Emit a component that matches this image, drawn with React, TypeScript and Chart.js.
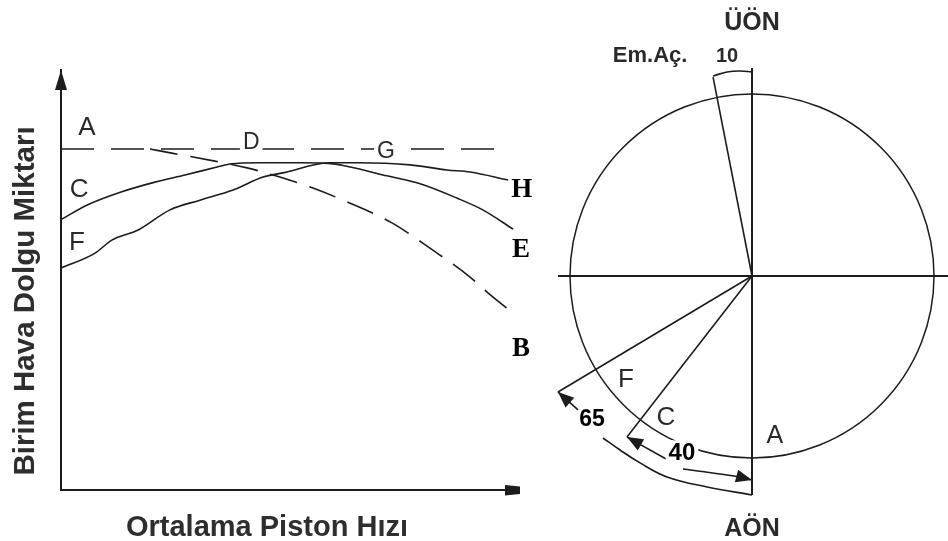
import { useEffect, useRef } from "react";
import { Chart, registerables } from "chart.js";

Chart.register(...registerables);

// ---------------- Left chart: volumetric fill vs. mean piston speed (relative units 0–100) ----------------
// A–G: ideal (no inlet-closing delay) level
const agSpeed = [0, 98.9];
const agFill = [81.2, 81.2];
// A–B: inlet closes at BDC (dashed)
const abSpeed = [19.6, 24.4, 29.1, 33.9, 41.0, 48.2, 55.5, 63.0, 72.9, 81.9, 90.1, 94.3, 99.6];
const abFill = [81.2, 80.2, 79.3, 78.3, 76.7, 74.5, 71.9, 68.6, 63.6, 57.1, 50.7, 46.7, 42.1];
// C–D–E: inlet closes 40° after BDC
const ceSpeed = [0.2, 5.9, 13.4, 20.7, 27.3, 34.4, 37.2, 43.8, 52.6, 60.4, 63.7, 71.8, 79.1, 87.2, 92.9, 99.6];
const ceFill = [64.5, 67.9, 71.0, 73.3, 75.0, 76.9, 77.6, 77.9, 77.9, 77.6, 76.9, 74.8, 72.9, 69.5, 66.7, 62.1];
// F–G–H: inlet closes 65° after BDC
const fhSpeed = [0.2, 7.5, 11.2, 17.0, 24.0, 30.6, 37.9, 44.5, 48.9, 59.3, 65.4, 76.9, 85.0, 90.1, 98.5];
const fhFill = [52.9, 56.4, 59.5, 61.9, 66.7, 69.0, 71.4, 74.5, 75.5, 77.9, 77.9, 77.4, 76.2, 75.7, 73.8];

const xAxisTitle = "Ortalama Piston Hızı";
const yAxisTitle = "Birim Hava Dolgu Miktarı";

// curve labels (text, speed, fill)
const curveLabelText = ["A", "D", "G", "C", "F", "H", "E", "B"];
const curveLabelX = [5.7, 41.9, 71.6, 4.0, 3.5, 101.5, 101.3, 101.3];
const curveLabelY = [86.7, 83.1, 81.0, 71.9, 59.3, 71.9, 57.6, 34.0];

// ---------------- Right chart: valve timing diagram (unit = crank circle radius) ----------------
const circleCenter = [0, 0];
const circleRadius = 1;
const tdcBdcX = [0, 0];
const tdcBdcY = [1.143, -1.203];
const horizX = [-1.066, 1.077];
const horizY = [0, 0];
const emLineX = [0, -0.214];
const emLineY = [0, 1.093];
const emArcX = [-0.214, -0.137, -0.066, 0];
const emArcY = [1.099, 1.121, 1.126, 1.121];
const cLineX = [0, -0.687];
const cLineY = [0, -0.885];
const fLineX = [0, -1.066];
const fLineY = [0, -0.637];
const arc65aX = [-1.066, -0.956];
const arc65aY = [-0.637, -0.736];
const arc65bX = [-0.819, -0.725, -0.615, -0.467, -0.247, 0];
const arc65bY = [-0.890, -0.956, -1.027, -1.104, -1.159, -1.203];
const arc40aX = [-0.687, -0.462];
const arc40aY = [-0.885, -1.011];
const arc40bX = [-0.379, -0.066, 0];
const arc40bY = [-1.060, -1.104, -1.121];

const diagLabelText = ["ÜÖN", "Em.Aç.", "10", "AÖN", "F", "C", "A", "65", "40"];
const diagLabelX = [0, -0.56, -0.137, 0, -0.692, -0.473, 0.126, -0.879, -0.385];
const diagLabelY = [1.40, 1.22, 1.214, -1.379, -0.56, -0.769, -0.868, -0.78, -0.962];

// ---------------- styles ----------------
const INK = "#1c1c1c";
const SANS = '"Liberation Sans", Arial, sans-serif';
const SERIF = '"Liberation Serif", "Times New Roman", serif';

const pts = (xs: number[], ys: number[]) => xs.map((x, i) => ({ x, y: ys[i] }));

type TextStyle = { size: number; weight?: string; family?: string; color?: string; cap?: number; bg?: boolean };

function drawLabel(ctx: CanvasRenderingContext2D, text: string, px: number, py: number, s: TextStyle) {
  const cap = s.cap ?? 0.716;
  ctx.font = `${s.weight ?? "normal"} ${s.size}px ${s.family ?? SANS}`;
  ctx.textAlign = "center";
  ctx.textBaseline = "alphabetic";
  if (s.bg) {
    const w = ctx.measureText(text).width;
    ctx.fillStyle = "#ffffff";
    ctx.fillRect(px - w / 2 - 3, py - s.size * 0.45, w + 6, s.size * 0.9);
  }
  ctx.fillStyle = s.color ?? INK;
  ctx.fillText(text, px, py + (s.size * cap) / 2);
}

const curveLabelStyles: TextStyle[] = [
  { size: 26, color: "#2a2a2a" },
  { size: 23, color: "#2a2a2a", bg: true },
  { size: 23, color: "#2a2a2a", bg: true },
  { size: 26, color: "#2a2a2a" },
  { size: 26, color: "#2a2a2a" },
  { size: 27, weight: "bold", family: SERIF, color: "#000", cap: 0.662 },
  { size: 27, weight: "bold", family: SERIF, color: "#000", cap: 0.662 },
  { size: 27, weight: "bold", family: SERIF, color: "#000", cap: 0.662 },
];

const diagLabelStyles: TextStyle[] = [
  { size: 25, weight: "bold", color: "#2a2a2a" },
  { size: 22, weight: "bold", color: "#2a2a2a" },
  { size: 20, weight: "bold", color: "#2a2a2a" },
  { size: 25, weight: "bold", color: "#2a2a2a" },
  { size: 26, color: "#2a2a2a" },
  { size: 26, color: "#2a2a2a" },
  { size: 25, color: "#2a2a2a" },
  { size: 23, weight: "bold", color: "#000" },
  { size: 24, weight: "bold", color: "#000", bg: true },
];

const leftDecor = {
  id: "leftDecor",
  afterDatasetsDraw(chart: any) {
    const { ctx, chartArea: ca, scales } = chart;
    const xs = scales.x;
    const ys = scales.y;
    ctx.save();
    ctx.fillStyle = INK;
    // y-axis arrow head
    ctx.beginPath();
    ctx.moveTo(ca.left, ca.top);
    ctx.lineTo(ca.left - 6, ca.top + 20);
    ctx.lineTo(ca.left + 6, ca.top + 20);
    ctx.closePath();
    ctx.fill();
    // x-axis arrow head
    ctx.beginPath();
    ctx.moveTo(ca.right - 10, ca.bottom - 5);
    ctx.lineTo(ca.right + 5, ca.bottom - 3.5);
    ctx.lineTo(ca.right + 5, ca.bottom + 4);
    ctx.lineTo(ca.right - 10, ca.bottom + 5.5);
    ctx.closePath();
    ctx.fill();
    // curve labels
    curveLabelText.forEach((t, i) => {
      drawLabel(ctx, t, xs.getPixelForValue(curveLabelX[i]), ys.getPixelForValue(curveLabelY[i]), curveLabelStyles[i]);
    });
    // axis titles
    drawLabel(ctx, xAxisTitle, ca.left + 206, ca.bottom + 36, { size: 29, weight: "bold", color: "#2e2e2e" });
    ctx.save();
    ctx.translate(ca.left - 38, ca.top + 231);
    ctx.rotate(-Math.PI / 2);
    drawLabel(ctx, yAxisTitle, 0, 0, { size: 29.5, weight: "bold", color: "#2e2e2e" });
    ctx.restore();
    ctx.restore();
  },
};

const rightDecor = {
  id: "rightDecor",
  beforeDatasetsDraw(chart: any) {
    const { ctx, scales } = chart;
    const cx = scales.x.getPixelForValue(circleCenter[0]);
    const cy = scales.y.getPixelForValue(circleCenter[1]);
    const r = scales.x.getPixelForValue(circleCenter[0] + circleRadius) - cx;
    ctx.save();
    ctx.strokeStyle = INK;
    ctx.lineWidth = 1.5;
    ctx.beginPath();
    ctx.arc(cx, cy, r, 0, Math.PI * 2);
    ctx.stroke();
    ctx.restore();
  },
  afterDatasetsDraw(chart: any) {
    const { ctx, scales } = chart;
    ctx.save();
    ctx.fillStyle = INK;
    chart.data.datasets.forEach((ds: any, i: number) => {
      if (!ds.arrow) return;
      const pts = chart.getDatasetMeta(i).data;
      const heads: [any, any][] = [];
      if (ds.arrow === "start" || ds.arrow === "both") heads.push([pts[0], pts[1]]);
      if (ds.arrow === "end" || ds.arrow === "both") heads.push([pts[pts.length - 1], pts[pts.length - 2]]);
      heads.forEach(([tip, from]) => {
        const dx = tip.x - from.x;
        const dy = tip.y - from.y;
        const len = Math.hypot(dx, dy) || 1;
        const ux = dx / len;
        const uy = dy / len;
        const L = 16;
        const W = 6.5;
        const bx = tip.x - ux * L;
        const by = tip.y - uy * L;
        ctx.beginPath();
        ctx.moveTo(tip.x, tip.y);
        ctx.lineTo(bx - uy * W, by + ux * W);
        ctx.lineTo(bx + uy * W, by - ux * W);
        ctx.closePath();
        ctx.fill();
      });
    });
    diagLabelText.forEach((t, i) => {
      drawLabel(ctx, t, scales.x.getPixelForValue(diagLabelX[i]), scales.y.getPixelForValue(diagLabelY[i]), diagLabelStyles[i]);
    });
    ctx.restore();
  },
};

export default function App() {
  const leftRef = useRef<HTMLCanvasElement>(null);
  const rightRef = useRef<HTMLCanvasElement>(null);

  useEffect(() => {
    const solid = { borderColor: INK, borderWidth: 1.6, pointRadius: 0, fill: false, cubicInterpolationMode: "monotone" as const };
    const axis = {
      type: "linear" as const,
      min: 0,
      max: 100,
      ticks: { display: false },
      grid: { display: false, drawTicks: false, tickLength: 0 },
      border: { display: true, color: INK, width: 2 },
      title: { display: false },
    };
    const left = new Chart(leftRef.current!, {
      type: "line",
      data: {
        datasets: [
          { label: "A–G", data: pts(agSpeed, agFill), ...solid, borderDash: [33, 17] },
          { label: "A–B", data: pts(abSpeed, abFill), ...solid, borderDash: [28, 13] },
          { label: "C–E", data: pts(ceSpeed, ceFill), ...solid },
          { label: "F–H", data: pts(fhSpeed, fhFill), ...solid },
        ],
      },
      options: {
        responsive: false,
        animation: false,
        layout: { padding: { left: 61, top: 70, right: 30, bottom: 51 }, autoPadding: false },
        plugins: { legend: { display: false }, tooltip: { enabled: false } },
        scales: { x: { ...axis }, y: { ...axis } },
      },
      plugins: [leftDecor],
    });

    const line = { borderColor: INK, borderWidth: 1.6, pointRadius: 0, showLine: true, fill: false };
    const right = new Chart(rightRef.current!, {
      type: "scatter",
      data: {
        datasets: [
          { label: "ÜÖN–AÖN", data: pts(tdcBdcX, tdcBdcY), ...line, borderWidth: 2 },
          { label: "yatay", data: pts(horizX, horizY), ...line, borderWidth: 2 },
          { label: "Em.Aç.", data: pts(emLineX, emLineY), ...line },
          { label: "Em.Aç. 10", data: pts(emArcX, emArcY), ...line, tension: 0.4 },
          { label: "C", data: pts(cLineX, cLineY), ...line },
          { label: "F", data: pts(fLineX, fLineY), ...line },
          { label: "65a", data: pts(arc65aX, arc65aY), ...line, arrow: "start" },
          { label: "65b", data: pts(arc65bX, arc65bY), ...line, tension: 0.4 },
          { label: "40a", data: pts(arc40aX, arc40aY), ...line, arrow: "start" },
          { label: "40b", data: pts(arc40bX, arc40bY), ...line, tension: 0.4, arrow: "end" },
        ] as any,
      },
      options: {
        responsive: false,
        animation: false,
        layout: { padding: 0, autoPadding: false },
        plugins: { legend: { display: false }, tooltip: { enabled: false } },
        scales: {
          x: { type: "linear", min: -1.1374, max: 1.0769, display: false },
          y: { type: "linear", min: -1.456, max: 1.5165, display: false },
        },
      },
      plugins: [rightDecor],
    });

    return () => {
      left.destroy();
      right.destroy();
    };
  }, []);

  return (
    <div style={{ position: "absolute", left: 0, top: 0, width: 948, height: 541, background: "#ffffff" }}>
      <canvas ref={leftRef} width={545} height={541} style={{ position: "absolute", left: 0, top: 0 }} />
      <canvas ref={rightRef} width={403} height={541} style={{ position: "absolute", left: 545, top: 0 }} />
    </div>
  );
}
